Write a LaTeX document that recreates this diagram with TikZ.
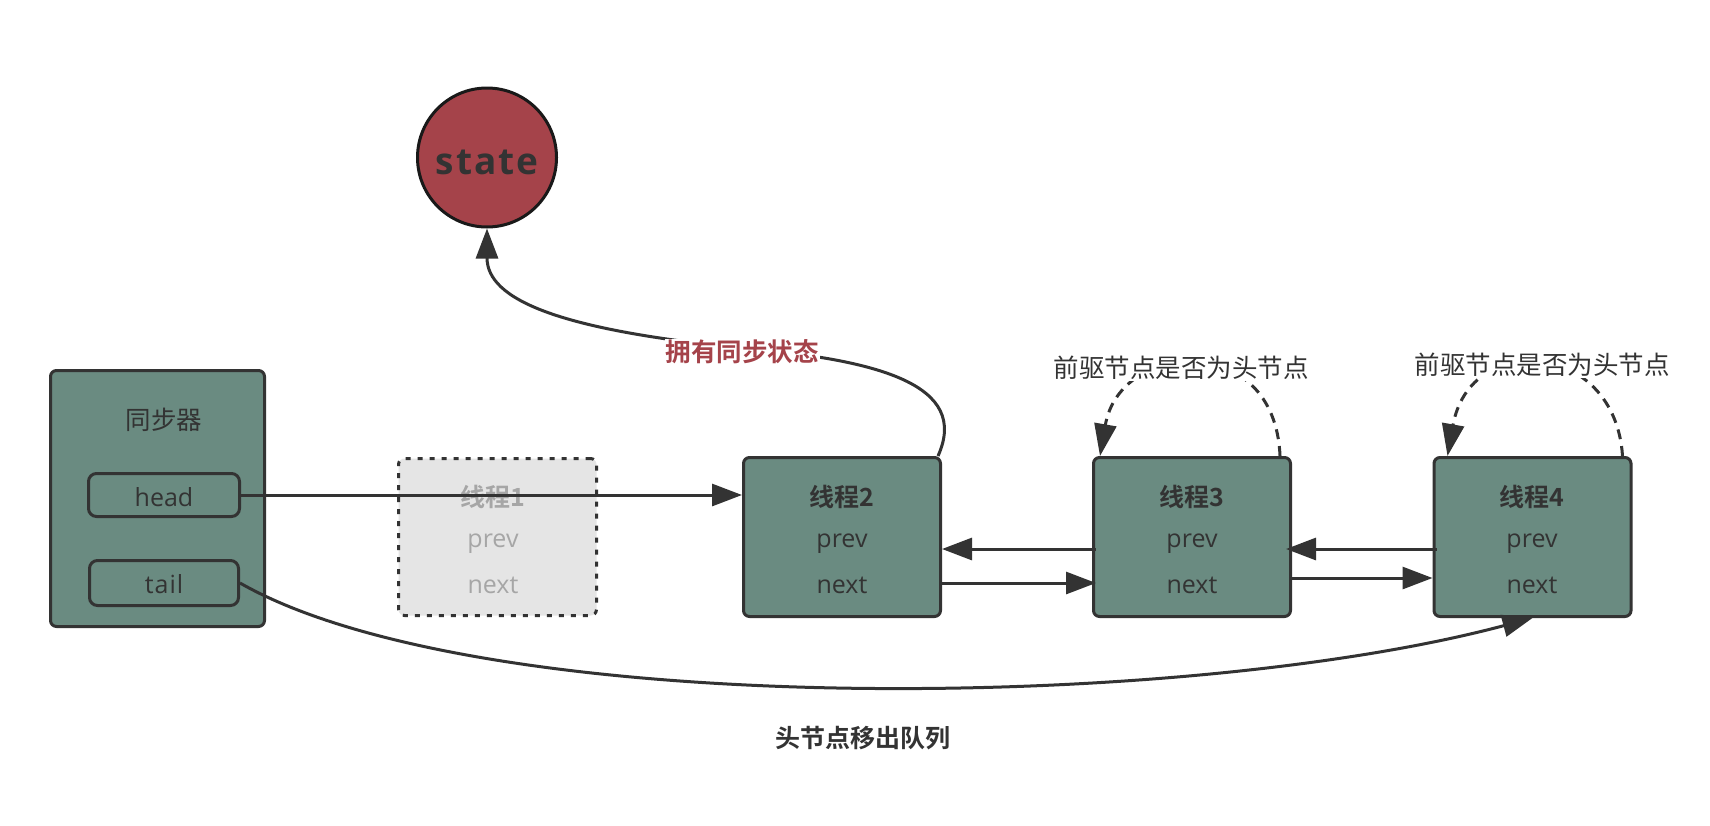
\documentclass[tikz,border=0pt]{standalone}
\usepackage{fontspec}
\setmainfont{Open Sans}
\newfontfamily\cjk{Noto Sans CJK SC}[BoldFont={Noto Sans CJK SC Bold}]
\usetikzlibrary{arrows.meta,calc}
\definecolor{dk}{HTML}{333333}
\definecolor{boxgreen}{HTML}{6A8B81}
\definecolor{stred}{HTML}{A5434A}
\definecolor{ghost}{HTML}{E5E5E5}
\definecolor{ghosttxt}{HTML}{A6A6A6}
\begin{document}
\begin{tikzpicture}[x=1pt,y=-1pt,
  thread/.style={draw=dk, line width=3pt, fill=boxgreen, rounded corners=6pt,
    minimum width=197pt, minimum height=159pt, inner sep=0pt},
  ghostbox/.style={draw=dk, line width=3pt, fill=ghost, rounded corners=6pt,
    dash pattern=on 5pt off 7pt, minimum width=198pt, minimum height=157pt, inner sep=0pt},
  field/.style={draw=dk, line width=3pt, fill=boxgreen, rounded corners=8pt, inner sep=0pt},
  latin/.style={font=\fontsize{25}{30}\selectfont, text=dk, anchor=base, inner sep=0pt},
  title/.style={font=\cjk\bfseries\fontsize{25}{30}\selectfont, text=dk, inner sep=0pt},
  cjklbl/.style={font=\cjk\fontsize{25.5}{30}\selectfont, text=dk, inner sep=1pt},
  arr/.style={draw=dk, line width=3pt, -{Triangle[length=30pt,width=22pt]}},
  darr/.style={draw=dk, line width=3pt, dash pattern=on 10pt off 7pt, -{Triangle[length=32pt,width=22pt]}},
]
\useasboundingbox (0,0) rectangle (1710,825);
\fill[white] (0,0) rectangle (1710,825);

% state circle
\node[circle, draw=black!90, line width=3pt, fill=stred, minimum size=139pt, inner sep=0pt] (state) at (487,157.5) {};
\node[font=\bfseries\fontsize{37}{40}\selectfont\addfontfeature{LetterSpace=5}, text=dk, anchor=base] (statetxt) at (487,174) {state};

% synchronizer
\node[draw=dk, line width=3pt, fill=boxgreen, rounded corners=6pt, minimum width=214pt, minimum height=256pt, inner sep=0pt] (sync) at (157.5,498.5) {};
\node[cjklbl] (synctxt) at (164,420) {同步器};
\node[field, minimum width=151pt, minimum height=43pt] (head) at (164,495) {};
\node[latin] (headtxt) at (164,506) {head};
\node[field, minimum width=149pt, minimum height=45pt] (tail) at (164,583) {};
\node[latin] (tailtxt) at (164,593) {t\kern1pt a\kern1pt i\kern1pt l};

% ghost thread 1
\node[ghostbox] (t1) at (497.5,537) {};
\node[title, text=ghosttxt] (t1a) at (493,497) {线程1};
\node[latin, text=ghosttxt] (t1b) at (493,547) {prev};
\node[latin, text=ghosttxt] (t1c) at (493,593) {next};

% threads 2-4
\node[thread] (t2) at (842,537) {};
\node[title] (t2a) at (842,497) {线程2};
\node[latin] (t2b) at (842,547) {prev};
\node[latin] (t2c) at (842,593) {next};

\node[thread] (t3) at (1192,537) {};
\node[title] (t3a) at (1192,497) {线程3};
\node[latin] (t3b) at (1192,547) {prev};
\node[latin] (t3c) at (1192,593) {next};

\node[thread] (t4) at (1532.5,537) {};
\node[title] (t4a) at (1532,497) {线程4};
\node[latin] (t4b) at (1532,547) {prev};
\node[latin] (t4c) at (1532,593) {next};

% head pointer
\draw[arr] (head.east) -- (head.east -| t2.west);

% links
\draw[arr] ($(t3.west)+(4,12)$) -- ($(t2.east)+(0,12)$);
\draw[arr] ($(t2.east)+(0,46)$) -- ($(t3.west)+(4,46)$);
\draw[arr] ($(t4.west)+(4,12)$) -- ($(t3.east)+(-6,12)$);
\draw[arr] ($(t3.east)+(0,41)$) -- ($(t4.west)+(0,41)$);

% tail pointer
\draw[arr] (tail.east) .. controls (480,720) and (1180,712) .. (t4.south);

% state arrow
\draw[arr] ($(t2.north east)+(-4,0)$) .. controls (970,385) and (880,360) .. (742,348)
  .. controls (560,330) and (487,300) .. (state.south);
\node[font=\cjk\bfseries\fontsize{25.5}{30}\selectfont, text=stred, fill=white, inner sep=1pt] (own) at (742,352) {拥有同步状态};

% dashed loops
\draw[darr] ($(t3.north east)+(-12,0)$) .. controls (1275,330) and (1120,340) .. ($(t3.north west)+(8,0)$);
\node[cjklbl, fill=white] (q3) at (1181,368) {前驱节点是否为头节点};
\draw[darr] ($(t4.north east)+(-10,0)$) .. controls (1615,340) and (1470,330) .. ($(t4.north west)+(15,0)$);
\node[cjklbl, fill=white] (q4) at (1542,365) {前驱节点是否为头节点};

% caption
\node[title] (cap) at (863,738) {头节点移出队列};
\end{tikzpicture}
\end{document}
